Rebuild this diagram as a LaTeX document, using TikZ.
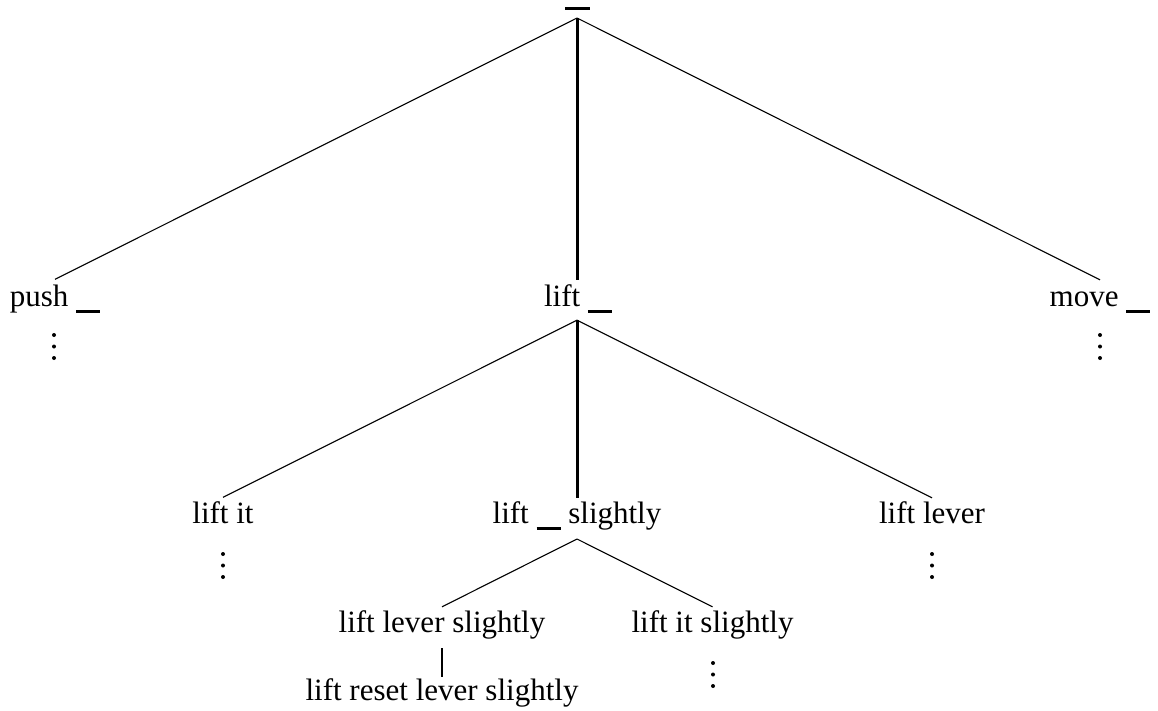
\documentclass[tikz,border=0pt]{standalone}
\usepackage{fontspec}
\setmainfont{Liberation Serif}
% a blank slot in a phrase, drawn as a short heavy rule below the baseline
\newcommand\blankslot{\rule[-7pt]{24pt}{3pt}}
\begin{document}
\begin{tikzpicture}[x=1pt,y=-1pt,
  phrase/.style={anchor=base,inner sep=0pt,outer sep=0pt,
    text height=21.2pt,text depth=6.7pt,
    font=\fontsize{31}{37}\selectfont},
  branch/.style={line width=1.1pt},
  chosen/.style={line width=3pt},
  morebelow/.style={fill=black}]
\useasboundingbox (0,0) rectangle (1158,710);

% root: an empty slot
\node[fill=black,inner sep=0pt,outer sep=0pt,minimum width=25pt,minimum height=3pt] (root) at (577,8) {};

% first level
\node[phrase] (push) at (55,306) {push \blankslot};
\node[phrase] (lift) at (578,306) {lift \blankslot};
\node[phrase] (move) at (1100,306) {move \blankslot};

% second level
\node[phrase] (liftit) at (223,523) {lift it};
\node[phrase] (liftslightly) at (577,523) {lift \blankslot{} slightly};
\node[phrase] (liftlever) at (932,523) {lift lever};

% third level
\node[phrase] (leverslightly) at (442,632) {lift lever slightly};
\node[phrase] (itslightly) at (712.5,632) {lift it slightly};

% fourth level
\node[phrase] (resetlever) at (442,700) {lift reset lever slightly};

% connectors
\draw[branch] ([yshift=-8.5pt]root.south) -- ([yshift=5.5pt]push.north);
\draw[chosen] ([yshift=-8.5pt]root.south) -- ([xshift=-1pt,yshift=5pt]lift.north);
\draw[branch] ([yshift=-8.5pt]root.south) -- ([yshift=5pt]move.north);

\draw[branch] ([xshift=-1pt,yshift=-7.5pt]lift.south) -- ([yshift=4.5pt]liftit.north);
\draw[chosen] ([xshift=-1pt,yshift=-7.5pt]lift.south) -- ([yshift=4pt]liftslightly.north);
\draw[branch] ([xshift=-1pt,yshift=-7.5pt]lift.south) -- ([yshift=4pt]liftlever.north);

\draw[branch] ([yshift=-9.3pt]liftslightly.south) -- ([yshift=4pt]leverslightly.north);
\draw[branch] ([yshift=-9.3pt]liftslightly.south) -- ([yshift=4pt]itslightly.north);

\draw[line width=2.6pt] ([yshift=-9.3pt]leverslightly.south) -- ([yshift=2pt]resetlever.north);

% continuation dots
\foreach \x/\y in {54/335,1100/335,223/554,932/554,713/663}{
  \foreach \d in {0,11.5,23}
    \fill[morebelow] (\x,\y+\d) circle (2);
}
\end{tikzpicture}
\end{document}
